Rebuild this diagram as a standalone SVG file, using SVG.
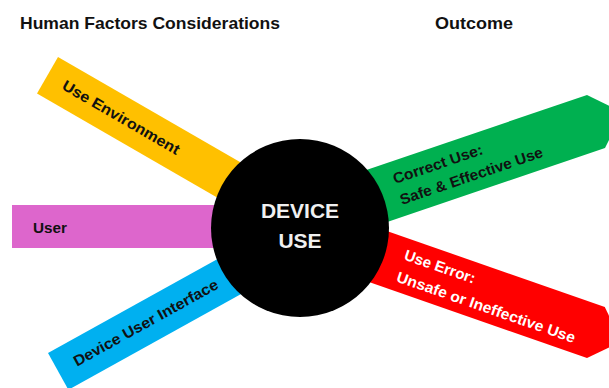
<svg xmlns="http://www.w3.org/2000/svg" width="609" height="388" viewBox="0 0 609 388">
<style>
text{font-family:"Liberation Sans",Arial,sans-serif;font-weight:bold}
.hdr{font-size:17px;fill:#111}
.lbl{font-size:15px;fill:#111}
.wlbl{font-size:15px;fill:#fff}
.ctr{font-size:21px;fill:#f0f0f0;text-anchor:middle}
</style>
<rect width="609" height="388" fill="#fff"/>
<g id="headers">
<text class="hdr" x="20" y="29" textLength="260" lengthAdjust="spacingAndGlyphs">Human Factors Considerations</text>
<text class="hdr" x="435" y="29" textLength="78" lengthAdjust="spacingAndGlyphs">Outcome</text>
</g>
<g id="connectors">
<g id="use-environment">
<polygon points="58,57 37,93.4 244.8,213.4 265.8,177" fill="#FFC000"/>
<text class="lbl" transform="translate(60.9,88.6) rotate(30)" textLength="133" lengthAdjust="spacingAndGlyphs">Use Environment</text>
</g>
<g id="user">
<rect x="12" y="205" width="260" height="43" fill="#DD66CC"/>
<text class="lbl" x="33" y="233" textLength="34" lengthAdjust="spacingAndGlyphs">User</text>
</g>
<g id="device-user-interface">
<polygon points="48,353 68.4,389.8 278.4,273.4 258,236.6" fill="#00B0F0"/>
<text class="lbl" transform="translate(76.9,366.8) rotate(-29)" textLength="163" lengthAdjust="spacingAndGlyphs">Device User Interface</text>
</g>
<g id="correct-use">
<polygon points="359.7,172.3 587,95 622.5,112.5 605,148 377.7,225.3" fill="#00B050"/>
<text class="lbl" transform="translate(394.9,184.1) rotate(-18.8)" textLength="94" lengthAdjust="spacingAndGlyphs">Correct Use:</text>
<text class="lbl" transform="translate(402,204.9) rotate(-18.8)" textLength="150" lengthAdjust="spacingAndGlyphs">Safe &amp; Effective Use</text>
</g>
<g id="use-error">
<polygon points="378.2,228 604.8,307 621.4,341.4 587,358 360.4,279" fill="#FF0000"/>
<text class="wlbl" transform="translate(403.3,259.3) rotate(19.2)" textLength="74" lengthAdjust="spacingAndGlyphs">Use Error:</text>
<text class="wlbl" transform="translate(395.6,281.2) rotate(19.2)" textLength="188" lengthAdjust="spacingAndGlyphs">Unsafe or Ineffective Use</text>
</g>
</g>
<g id="device-use">
<circle cx="300" cy="228" r="89" fill="#000"/>
<text class="ctr" x="300" y="218">DEVICE</text>
<text class="ctr" x="300" y="248">USE</text>
</g>
</svg>
